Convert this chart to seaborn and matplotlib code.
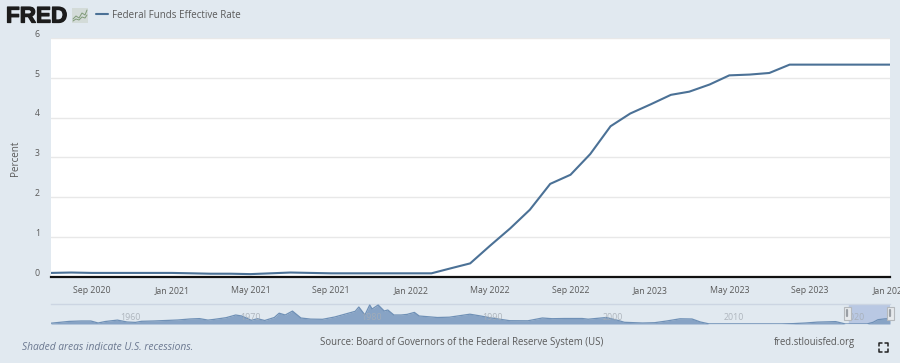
import pandas as pd
import seaborn as sns
import matplotlib.pyplot as plt
import matplotlib.dates as mdates
import matplotlib.transforms as mtrans
import matplotlib.patheffects as pe
from matplotlib.lines import Line2D
from matplotlib.patches import Rectangle

W, H = 900, 363
BG = '#e1e9f0'
LINE = '#4b7196'
TXT = '#5a5a5a'

# main series, monthly from Jul 2020
rate = [0.09, 0.10, 0.09, 0.09, 0.09, 0.09,
        0.09, 0.08, 0.07, 0.07, 0.06, 0.08, 0.10, 0.09, 0.08, 0.08, 0.08, 0.08,
        0.08, 0.08, 0.20, 0.33, 0.77, 1.21, 1.68, 2.33, 2.56, 3.08, 3.78, 4.10,
        4.33, 4.57, 4.65, 4.83, 5.06, 5.08, 5.12, 5.33, 5.33, 5.33, 5.33, 5.33,
        5.33]
y_ticks = [0, 1, 2, 3, 4, 5, 6]
x_ticks = ['2020-09-01', '2021-01-01', '2021-05-01', '2021-09-01', '2022-01-01', '2022-05-01',
           '2022-09-01', '2023-01-01', '2023-05-01', '2023-09-01', '2024-01-01']

# navigator series, whole history
nav_year = [1954.5, 1955, 1956, 1957, 1957.8, 1958.4, 1959, 1960, 1960.8, 1961.5, 1962, 1963, 1964,
            1965, 1966, 1966.8, 1967.5, 1968, 1969, 1969.8, 1970.3, 1971.1, 1971.6, 1972.2, 1973,
            1973.4, 1973.9, 1974.5, 1975.2, 1976, 1977, 1978, 1978.9, 1979.7, 1980.0, 1980.5,
            1980.9, 1981.1, 1981.6, 1982.1, 1982.4, 1982.9, 1983.5, 1984, 1984.6, 1985, 1986.5, 1987.5,
            1989.2, 1990, 1991, 1992.5, 1994, 1995.2, 1996, 1997, 1998.5, 1999, 2000.5, 2001.5, 2002,
            2003.5, 2004.5, 2005.5, 2006.6, 2007.6, 2008.3, 2009, 2015, 2016, 2017, 2018, 2019.5,
            2020.3, 2022.1, 2022.6, 2023, 2023.6, 2024]
nav_rate = [0.8, 1.4, 2.6, 3.0, 3.0, 1.0, 2.5, 3.9, 2.0, 1.6, 2.7, 3.0, 3.5,
            4.0, 5.0, 5.4, 3.9, 4.6, 6.3, 9.0, 8.0, 3.7, 5.3, 3.5, 6.5,
            10.8, 9.0, 12.9, 6.0, 4.9, 4.7, 7.0, 10.0, 12.7, 17.0, 9.0,
            19.0, 15.0, 19.0, 13.0, 14.0, 9.0, 9.0, 9.6, 11.6, 8.0, 6.5, 6.8,
            9.8, 8.2, 6.0, 3.3, 3.2, 6.0, 5.3, 5.5, 5.5, 4.8, 6.5, 3.5, 1.7,
            1.0, 1.3, 3.0, 5.2, 5.0, 2.0, 0.15, 0.12, 0.4, 1.0, 1.9, 2.4,
            0.05, 0.08, 1.7, 4.3, 5.2, 5.33]
nav_labels = [1960, 1970, 1980, 1990, 2000, 2010, 2020]

df = pd.DataFrame({'date': pd.date_range('2020-07-01', periods=len(rate), freq='MS'), 'rate': rate})
nav = pd.DataFrame({'year': nav_year, 'rate': nav_rate})


def fx(x):
    return x / W


def fy(y):
    return 1 - y / H


sns.set_theme(style='white')
plt.rcParams['font.family'] = ['Open Sans', 'DejaVu Sans']

fig = plt.figure(figsize=(W / 100, H / 100), dpi=100, facecolor=BG)

# main chart
ax = fig.add_axes([fx(51), fy(276.5), (890 - 51) / W, (276.5 - 38) / H], facecolor='white')
sns.lineplot(data=df, x='date', y='rate', ax=ax, color=LINE, linewidth=1.5, label='Federal Funds Effective Rate')
ax.set_xlim(pd.Timestamp('2020-07-01'), pd.Timestamp('2024-01-01'))
ax.set_ylim(0, 6)
ax.set_yticks(y_ticks)
ax.set_xticks(pd.to_datetime(x_ticks))
ax.xaxis.set_major_formatter(mdates.DateFormatter('%b %Y'))
ax.grid(axis='y', color='#e8e8e8', linewidth=1)
ax.set_axisbelow(True)
ax.set_xlabel('')
ax.set_ylabel('Percent', fontsize=7.1, color=TXT)
ax.yaxis.set_label_coords(fx(21), 0.495, transform=mtrans.blended_transform_factory(fig.transFigure, ax.transAxes))
ax.tick_params(axis='x', length=6, width=1, color='#d3dbe6', labelsize=6.3, labelcolor=TXT, pad=1.0)
ax.tick_params(axis='y', length=0, labelsize=6.3, labelcolor=TXT, pad=8)
up = mtrans.ScaledTranslation(0, 4.5 / 72 * 0.72, fig.dpi_scale_trans)
for lab in ax.get_yticklabels():
    lab.set_transform(lab.get_transform() + up)
sns.despine(ax=ax, left=True, top=True, right=True)
ax.spines['bottom'].set_color('#111111')
ax.spines['bottom'].set_linewidth(1.6)

# legend sits in the header next to the logo
handles, labels = ax.get_legend_handles_labels()
ax.legend(handles, labels, loc='center left', bbox_to_anchor=(fx(94), fy(15)), bbox_transform=fig.transFigure,
          frameon=False, fontsize=7.0, labelcolor=TXT, handlelength=1.25, handletextpad=0.45, borderpad=0.2, borderaxespad=0)

# navigator strip
nax = fig.add_axes([fx(51), fy(324), (890 - 51) / W, 20 / H], facecolor='none')
nax.add_patch(Rectangle((2020.6, 0), 3.4, 20, color='#b9c8e3', zorder=0))
sns.lineplot(data=nav, x='year', y='rate', ax=nax, color='#6f90b6', linewidth=0.9, zorder=3)
nax.fill_between(nav['year'], nav['rate'], 0, color='#87a3c5', linewidth=0, zorder=2)
nax.set_xlim(1954.5, 2024)
nax.set_ylim(0, 20)
nax.set_xlabel('')
nax.set_ylabel('')
nax.set_xticks([])
nax.set_yticks([])
for s in nax.spines.values():
    s.set_visible(False)
nax.spines['top'].set_visible(True)
nax.spines['top'].set_color('#ccd5e2')
nax.spines['top'].set_linewidth(1)
# year labels sit a little right of their tick
for yr in nav_labels:
    nax.text(yr + 1.05, 6.8, str(yr), ha='center', va='center', fontsize=6.4, color='#a6adb5', zorder=4, alpha=0.85)

# navigator handles
for xh in (847, 890):
    fig.add_artist(Rectangle((fx(xh - 3.5), fy(320)), 7 / W, 13 / H, transform=fig.transFigure,
                             facecolor='#e6e9ec', edgecolor='#b4b8bc', lw=0.8, zorder=10))
    fig.add_artist(Line2D([fx(xh), fx(xh)], [fy(310), fy(316)], color='#9a9fa5', lw=1.6, zorder=11))

# footer
fig.text(fx(22), fy(347), 'Shaded areas indicate U.S. recessions.', fontsize=7.35, style='italic', color='#6b7890', va='center')
fig.text(fx(320), fy(342.5), 'Source: Board of Governors of the Federal Reserve System (US)', fontsize=6.9, color=TXT, va='center')
fig.text(fx(774), fy(342.5), 'fred.stlouisfed.org', fontsize=6.85, color=TXT, va='center')

# logo
fig.text(fx(6), fy(22.5), 'FRED', fontsize=16.2, fontweight='bold', family='Liberation Sans', color='#1c1c1c', va='baseline',
         path_effects=[pe.withStroke(linewidth=0.9, foreground='#1c1c1c')])
fig.add_artist(Rectangle((fx(72), fy(23)), 16 / W, 15 / H, transform=fig.transFigure, color='#d3dbd8', lw=0))
logo_a = [19, 16, 18, 13, 15, 10]
logo_b = [21, 19, 20, 17, 18, 15]
logo_x = [73, 76, 79, 82, 85, 87]
fig.add_artist(Line2D([fx(v) for v in logo_x], [fy(v) for v in logo_a], color='#7f9a78', lw=0.7))
fig.add_artist(Line2D([fx(v) for v in logo_x], [fy(v) for v in logo_b], color='#7f9a78', lw=0.7))

# fullscreen icon
for cx, cy, sx, sy in [(879, 343, 1, 1), (888, 343, -1, 1), (879, 352, 1, -1), (888, 352, -1, -1)]:
    fig.add_artist(Line2D([fx(cx), fx(cx), fx(cx + sx * 3)], [fy(cy + sy * 3), fy(cy), fy(cy)], color='#222222', lw=1.1))

fig.savefig('out.png', dpi=100, facecolor=BG)
